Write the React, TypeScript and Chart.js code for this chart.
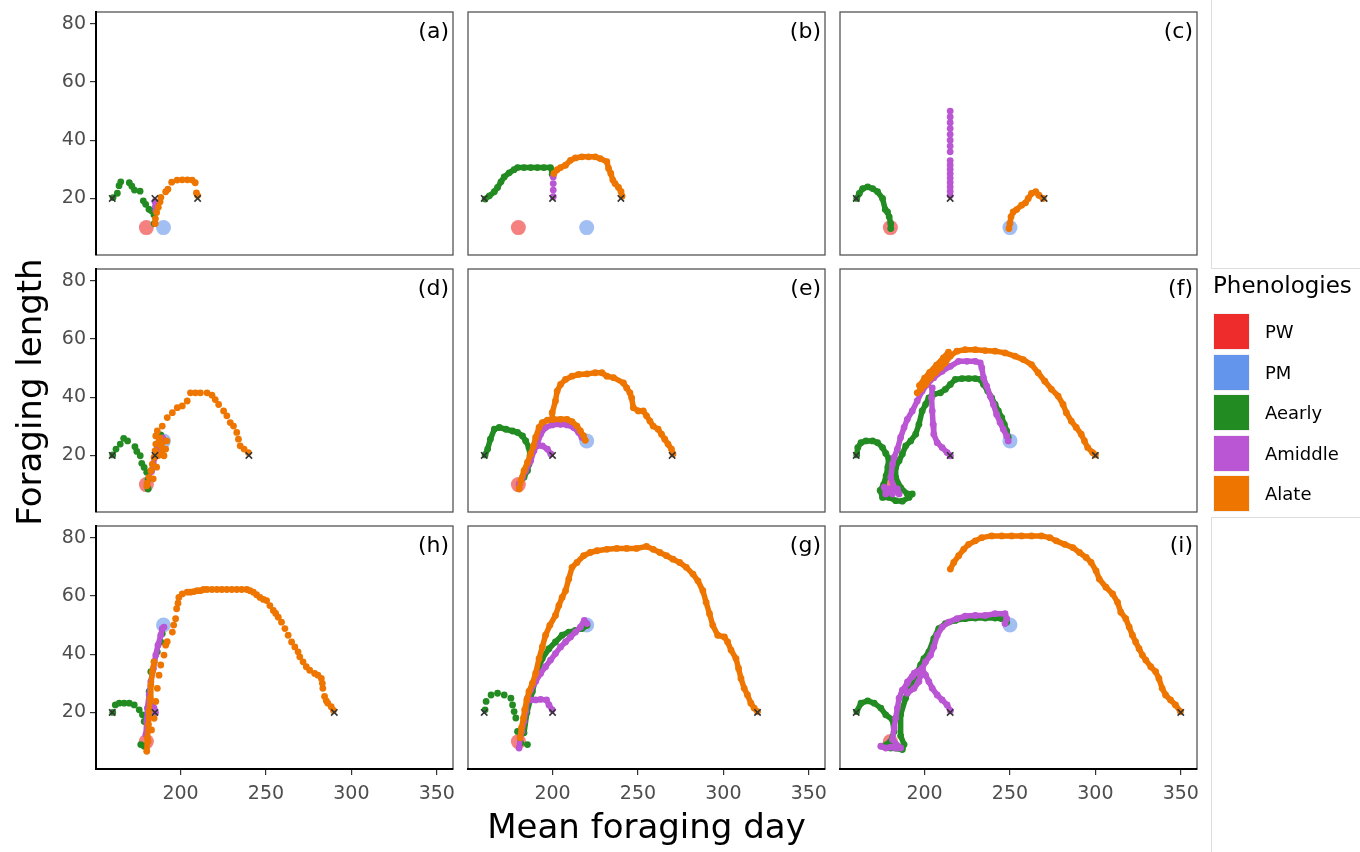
import React, { useEffect, useRef } from 'react';
import { Chart, registerables } from 'chart.js';

Chart.register(...registerables);

type Pt = [number, number];

// ---------- categories, ticks, ranges ----------
const PANEL_LABELS = ['(a)', '(b)', '(c)', '(d)', '(e)', '(f)', '(h)', '(g)', '(i)'];
const PHENOLOGIES = ['PW', 'PM', 'Aearly', 'Amiddle', 'Alate'];
const COLORS = ['#EE2C2C', '#6495ED', '#228B22', '#BA55D3', '#EE7600'];
const X_TICKS = [200, 250, 300, 350];
const Y_TICKS = [20, 40, 60, 80];
const X_RANGE: Pt = [150.5, 359.5];
const Y_RANGE: Pt = [0.6, 84];
const X_TITLE = 'Mean foraging day';
const Y_TITLE = 'Foraging length';
const LEGEND_TITLE = 'Phenologies';

// ---------- PW / PM end points (per panel a,b,c,d,e,f,h,g,i) ----------
const PW_DAY = [180, 180, 180, 180, 180, 180, 180, 180, 180];
const PW_LEN = [10, 10, 10, 10, 10, 10, 10, 10, 10];
const PM_DAY = [190, 220, 250, 190, 220, 250, 190, 220, 250];
const PM_LEN = [10, 10, 10, 25, 25, 25, 50, 50, 50];

// ---------- start markers (x) ----------
const START_EARLY = [160, 160, 160, 160, 160, 160, 160, 160, 160];
const START_MIDDLE = [185, 200, 215, 185, 200, 215, 185, 200, 215];
const START_LATE = [210, 240, 270, 240, 270, 300, 290, 320, 350];
const START_LEN = [20, 20, 20, 20, 20, 20, 20, 20, 20];

// ---------- panel (a) ----------
const A_EARLY: Pt[] = [[160.5, 20.3], [163, 21.8], [164, 24.4], [165, 25.7], [170, 25.4], [171.5, 24.2], [173, 22.9], [176.3, 22.5], [178.2, 19.2], [179.6, 18], [181.5, 16.3], [183, 15.8], [184.4, 14.4], [184.6, 11.4]];
const A_MIDDLE: Pt[] = [[185, 19], [185.3, 17.3], [185.5, 15.8]];
const A_LATE: Pt[] = [[185.2, 11.4], [185.3, 13], [186, 15.2], [187, 17], [188, 18.9], [188.5, 20.4], [191.3, 22.3], [192.6, 23.2], [194.8, 25.6], [198, 26.3], [201, 26.4], [204, 26.4], [206.8, 26.3], [208.6, 25.4], [209.3, 21.9], [210, 21]];

// ---------- panel (b) ----------
const B_EARLY: Pt[] = [[160.5, 19.8], [163, 20.9], [165.9, 22.3], [167.8, 23.8], [169.8, 25.7], [171.7, 27.4], [174.6, 28.8], [177.5, 29.9], [179.5, 30.6], [183.3, 30.6], [187.2, 30.6], [191.1, 30.6], [194.9, 30.6], [198.8, 30.6], [199.8, 29.1], [199.8, 28.3]];
const B_MIDDLE: Pt[] = [[200.4, 27.4], [200.4, 25.1], [200.4, 22.9], [200.4, 20.6]];
const B_LATE: Pt[] = [[200.8, 28.6], [202.7, 29.9], [204.7, 30.6], [207.6, 31.4], [210.5, 33.1], [213.4, 33.9], [217.2, 34.3], [221.1, 34.3], [225, 34.3], [227.9, 33.7], [231.8, 32.6], [232.8, 30.3], [234.1, 28.6], [235.3, 26.3], [236.6, 25.1], [238.6, 23.8], [240.1, 22.3], [240.7, 20.8]];

// ---------- panel (c) ----------
const C_EARLY: Pt[] = [[160.3, 20], [161.8, 21.7], [163.8, 23.4], [166.7, 24], [169.6, 23.4], [172.5, 22.3], [175.4, 20], [177, 16.2], [178.3, 15.4], [179.3, 13.7], [180.2, 11.4], [180.2, 9.7]];
const C_MIDDLE: Pt[] = [[215, 21], [215, 22.5], [215, 24], [215, 25.5], [215, 27], [215, 28.5], [215, 30], [215, 31.5], [215, 33], [215, 36], [215, 38], [215, 40], [215, 42], [215, 44], [215, 46], [215, 48], [215, 50]];
const C_LATE: Pt[] = [[249.4, 9.7], [250, 11.4], [250.6, 13.7], [251.9, 15.4], [253.9, 16.2], [256.8, 17.7], [259.1, 18.5], [260.7, 20], [262.6, 21.7], [265.1, 22.3], [266.9, 21.1], [269.4, 20]];

// ---------- panel (d) ----------
const D_EARLY: Pt[] = [[160.3, 20.2], [162.2, 22.2], [164.7, 23.9], [166.7, 25.9], [169, 25], [173.3, 23], [174.4, 21.4], [176.4, 19.9], [177.3, 17.3], [178.7, 15.9], [180.2, 14.2], [181, 11.9], [181, 8.5], [188.4, 27.1]];
const D_MIDDLE: Pt[] = [[183, 14.5], [184, 17], [185, 19.5], [186, 22], [187, 24], [188.5, 25.5], [189.5, 26]];
const D_LATE: Pt[] = [[180.2, 9.6], [180.5, 10.5], [181.6, 12.5], [184, 12], [182.6, 14.8], [183.5, 17], [186, 16], [184.5, 19.3], [187, 20], [185.1, 21.6], [185.5, 23.9], [185.5, 26.7], [186.4, 28.4], [188, 26], [187.4, 25], [189, 24], [188.4, 23.3], [189.3, 21.6], [190.3, 19.9], [191.3, 22.2], [191.9, 25], [189.3, 30.1], [192.2, 33], [195.2, 34.7], [198.1, 36.4], [201, 37], [203.9, 38.7], [205.8, 41.5], [208.7, 41.5], [211.6, 41.5], [215.5, 41.5], [218.4, 40.7], [220.3, 39.2], [222.3, 37.5], [225.2, 35.3], [227.1, 33.6], [229.1, 31.3], [231, 30.1], [232.9, 27.9], [233.9, 25.6], [234.9, 23.3], [237.2, 22.2], [239.7, 21]];

// ---------- panel (e) ----------
const E_EARLY: Pt[] = [[160.5, 20.2], [162, 22.2], [163.6, 25.6], [165.9, 29], [168.8, 29.6], [172.7, 29], [176.6, 28.4], [179.5, 27.9], [182.4, 26.7], [184.3, 25], [186.2, 22.7], [186.8, 19.9], [186.2, 17], [185.3, 14.8], [183.3, 12.5]];
const E_MIDDLE: Pt[] = [[180.4, 10.2], [182.4, 12.5], [184.3, 14.8], [187.2, 18.2], [189.1, 21.6], [191.1, 23.9], [193, 27.3], [195.9, 29.6], [199.8, 30.5], [204.7, 30.7], [208.5, 30.5], [212.4, 29.6], [215.3, 27.9], [217.2, 26.2]];
const E_MIDDLE_BRANCH: Pt[] = [[191.1, 23.3], [194, 23.3], [197, 22.2], [199, 20.5]];
const E_LATE: Pt[] = [[180.4, 8.5], [181.4, 11.3], [183.3, 14.8], [185.3, 17.6], [187.2, 20.5], [188.8, 23.3], [190.1, 26.2], [192.1, 29.6], [194, 31.3], [197, 32.1], [200.8, 32.4], [204.7, 32.4], [208.5, 32.4], [211.4, 31.6], [214.3, 30.1], [216.3, 28.4], [218.2, 26.7], [219.2, 25.2]];
const E_LATE_OUTER: Pt[] = [[199.8, 32.5], [199.8, 34.7], [201.7, 38.7], [202.7, 42.1], [204.7, 44.4], [207.6, 46.1], [211.4, 47.2], [215.3, 47.8], [220.2, 48], [225, 48.4], [228.9, 48.4], [231.8, 47.2], [235.7, 46.7], [241.5, 44.9], [243.4, 43.2], [245.3, 41.5], [246.3, 39.8], [247.3, 36.4], [250.2, 35.3], [253.1, 35.3], [255, 33.6], [257, 31.8], [258.9, 30.1], [261.8, 29], [263.8, 27.3], [265.7, 25.6], [267.6, 23.9], [269.6, 22.2], [270.5, 20.5]];

// ---------- panel (f) ----------
const F_EARLY: Pt[] = [[160.3, 20.2], [160.9, 22.7], [162.8, 24.4], [165.7, 25], [169.6, 25], [172.5, 24.4], [175.4, 22.7], [177.3, 20.7], [179, 19], [178.5, 16], [177.5, 13], [176, 10], [174, 8], [175.4, 5.6], [179.3, 5.6], [183.1, 4.5], [187, 4.3], [190.9, 5.6], [192.8, 6.8], [189.9, 6.8], [186, 9], [183.1, 12.5], [183.1, 15.9], [185.1, 18.2], [187, 20.5], [189, 23.3], [191.9, 25], [194.8, 27.3], [196.7, 30.7], [198.6, 35.3], [200.6, 37.5], [202.5, 39.8], [205.4, 41], [209.3, 41.5], [212.2, 42.7], [215.1, 44.4], [218, 46.1], [221.9, 46.4], [225.8, 46.4], [229.7, 46.4], [232.6, 46.1], [234.5, 44.4], [237, 42.1], [239.3, 39.8], [241.3, 37.5], [243.2, 35.3], [245.2, 33], [246.7, 30.7], [248.1, 28.4], [249, 26.2]];
const F_MIDDLE: Pt[] = [[176.4, 9.1], [177.3, 6.8], [179.3, 8.5], [181.2, 6.8], [182.2, 7.9], [184.1, 8.5], [185.1, 6.8], [182, 9], [180.2, 12.5], [181.2, 17], [182.2, 19.3], [184.1, 22.2], [186, 26.2], [188, 29.6], [189.9, 32.4], [192.8, 35.3], [195.7, 38.7], [198.6, 42.1], [201.6, 44.4], [205.4, 46.7], [210.3, 48.9], [215.1, 50.6], [219.9, 52.3], [224.8, 52.3], [229.7, 52.3], [232.6, 51.8], [233.5, 50.1], [234.5, 46.7], [236.4, 43.8], [238.4, 40.4], [240.3, 37.5], [242.2, 34.1], [244.2, 31.3], [246.1, 29], [248.1, 26.7], [249, 25]];
const F_MIDDLE_BRANCH: Pt[] = [[204.5, 43.2], [204.1, 39.8], [204.5, 35.3], [205, 30.7], [205.4, 27.3], [207.4, 24.4], [210.3, 22.7], [213.2, 21], [215.1, 19.9]];
const F_LATE: Pt[] = [[195.7, 41.5], [197.7, 42.7], [200.6, 44.4], [203.5, 46.7], [206.4, 48.4], [209.3, 50.1], [212.2, 51.8], [215.1, 54.1], [219, 55.8], [223.8, 56.3], [229.7, 56.3], [235.5, 56], [241.3, 55.8], [247.1, 55.2], [252.9, 54.1], [257.8, 52.9], [262.6, 51.2], [266.5, 48.4], [270.4, 45.5], [274.3, 42.7], [278.2, 40.4], [281.1, 37.5], [283, 34.7], [285.9, 31.8], [288.8, 29.6], [291.7, 27.3], [293.6, 25], [295.5, 22.7], [298.4, 21], [300, 20.2]];
const F_LATE_BAND: Pt[] = [[197, 44], [200, 46.5], [203, 48.5], [207, 51], [211, 53.5], [214, 55.5]];

// ---------- panel (h) ----------
const H_EARLY: Pt[] = [[160.3, 20], [161.8, 22.6], [164.1, 23.2], [167, 23.2], [170, 23.2], [172.9, 22.6], [175.8, 20.9], [177.7, 19.2], [178.7, 16.9], [176.7, 9], [178.7, 8.4], [181.6, 27.2], [182.6, 34], [184.5, 37.4], [186.4, 40.8], [188.4, 44.2], [189.3, 47]];
const H_MIDDLE: Pt[] = [[179.7, 12.4], [180.2, 16.9], [180.6, 21.5], [181.6, 26], [182.6, 30.6], [184.1, 35.1], [185.5, 39.7], [186.8, 43.1], [188.4, 46.5], [189.3, 48.8], [190.3, 49.3]];
const H_MIDDLE_BRANCH: Pt[] = [[183.5, 22.5], [184.5, 21.5], [185.3, 20]];
const H_LATE_RISE: Pt[] = [[180.2, 6.7], [180.6, 11.3], [181.2, 15.8], [181.6, 20.3], [182.2, 24.9], [182.6, 29.4], [183.5, 34], [184.5, 37.4]];
const H_LATE_RISE2: Pt[] = [[181, 10], [183, 14], [184.5, 18], [185.5, 23.8], [186.4, 28.3], [187.4, 32.8], [188.4, 36.3], [190.3, 39.7], [191.3, 43.1], [192.2, 44.3]];
const H_LATE_ARC: Pt[] = [[195.2, 47.6], [196, 50], [197.1, 52.2], [197.7, 55.6], [198.5, 57.5], [199, 59.5], [201, 60.7], [203.9, 61.3], [205.8, 61.3], [207.8, 61.5], [209.7, 61.8], [211.6, 61.8], [213.5, 62.2], [215.5, 62.2], [218.4, 62.2], [221.3, 62.2], [224.2, 62.2], [227.1, 62.2], [230, 62.2], [232.9, 62.2], [235.8, 62.2], [238.8, 62.2], [240.7, 61.8], [242.6, 61.3], [244.5, 60.4], [246.5, 59.5], [248.5, 58.8], [250.4, 58.4], [252.3, 56.7], [254.3, 55], [255.7, 54], [257.2, 52.7], [259.1, 51], [261.1, 48.8], [263, 46.5], [265, 44.2], [266.9, 42.5], [268.8, 40.8], [269.8, 39.1], [271.7, 37.4], [273.6, 35.7], [275.6, 34.5], [278.5, 33.4], [280.4, 32.8], [282.4, 31.7], [283, 30], [283.3, 28.3], [284.3, 25.5], [285.3, 24], [286.2, 23.2], [288.2, 22], [289.5, 20.7]];

// ---------- panel (g) ----------
const G_EARLY: Pt[] = [[160.5, 20.9], [161.1, 23.8], [164, 26], [167.8, 26.6], [171.7, 26], [175.6, 24.9], [176.6, 22.6], [177.5, 20.3], [178.5, 18.1], [179.5, 13.5], [181.4, 9.5], [185.3, 9]];
const G_EARLY_RISE: Pt[] = [[183.3, 13], [185, 20], [188.2, 27.2], [191.1, 34], [194, 38.5], [197.9, 41.9], [201.7, 44.2], [205.6, 46.5], [209.5, 47.6], [213.4, 48.2], [217.2, 48.8], [220.2, 49.9]];
const G_MIDDLE: Pt[] = [[180.4, 7.8], [181, 11.3], [182, 13.5], [183.3, 16.9], [184.3, 20.3], [185.3, 24.9], [187.2, 27.7], [190.1, 30.6], [193, 33.4], [195.9, 35.7], [198.8, 38], [201.7, 40.2], [204.7, 42.5], [207.6, 44.2], [210.5, 45.9], [213.4, 47.6], [216.3, 49.3], [218.6, 51.6], [220.2, 50.5]];
const G_MIDDLE_BRANCH: Pt[] = [[187.2, 24.3], [190.1, 24.3], [193, 24.5], [196.5, 24.3], [197.9, 22.6], [199.8, 20.9]];
const G_LATE: Pt[] = [[181, 11.3], [181.8, 14.7], [183, 18.1], [183.7, 20.9], [184.9, 24.3], [186.2, 27.2], [188.2, 30], [190.1, 33.4], [192.1, 38.5], [194, 42.5], [195.9, 46.5], [198.4, 49.9], [201.7, 53.3], [203.7, 56.7], [205.6, 59.5], [207.6, 61.8], [209.5, 65.8], [211.4, 69.8], [214.3, 71.5], [218.2, 73.8], [222.1, 74.9], [226, 75.5], [231.8, 76], [237.6, 76.3], [243.4, 76.3], [249.2, 76.3], [255, 77], [258.9, 76], [262.8, 74.9], [266.7, 73.8], [270.5, 72.6], [274.4, 71.5], [278.3, 69.8], [282.2, 67.5], [285.1, 65.2], [288, 61.8], [289.9, 57.8], [291.9, 53.9], [293.8, 49.9], [296.7, 46.5], [300.6, 45.9], [302.5, 44.2], [304.5, 41.4], [307.4, 38.5], [308.9, 35.1], [310.3, 31.7], [312.2, 28.3], [314.1, 26], [316.1, 23.2], [318, 21.5], [320, 20.3]];

// ---------- panel (i) ----------
const I_EARLY: Pt[] = [[160.3, 20.3], [162.8, 23.2], [166.7, 24], [170.5, 23.2], [174.4, 21.5], [177.3, 19.2], [181.2, 17.5], [182.2, 13.5], [180, 10], [175.4, 8.4], [180.2, 7.8], [187, 7.3], [188, 9], [186, 12], [186, 19.2], [188.9, 24.9], [191.9, 29.4], [194.8, 32.8], [197.7, 36.3], [199.6, 38.5], [202.5, 40.8], [205.4, 45.3], [208.3, 48.8], [212.2, 50.5], [218, 51.6], [223.8, 52.2], [229.7, 52.4], [235.5, 52.4], [241.3, 52.4], [245.2, 52.2], [248.1, 51]];
const I_MIDDLE: Pt[] = [[174.4, 8.4], [177.3, 7.8], [180.2, 8.1], [183.1, 7.8], [186, 7.8], [181.2, 10.7], [182.2, 14.7], [183.1, 18.1], [184.1, 21.5], [185.1, 24.9], [187, 27.7], [189.9, 30], [192.8, 32.3], [195.7, 34], [197.7, 32.8], [196.7, 30.6], [193.8, 28.3], [189.9, 26.6], [188, 27.5], [190, 30.5], [194, 33.5], [198.6, 35.1], [200.6, 37.4], [203.5, 39.7], [205.4, 42.5], [207.4, 46.5], [210.3, 49.3], [214.1, 51], [219, 52.2], [223.8, 53.1], [229.7, 53.3], [235.5, 53.3], [241.3, 53.9], [247.1, 53.9], [248.1, 52.2], [247.1, 50.5]];
const I_MIDDLE_BRANCH: Pt[] = [[198.6, 35.1], [200.6, 32.8], [202.5, 30.6], [204.5, 28.3], [207.4, 26], [210.3, 24.3], [213.2, 22.6], [215.1, 20.6]];
const I_LATE: Pt[] = [[215.1, 69.2], [217.1, 71.5], [220, 73.8], [222.9, 76], [225.8, 77.7], [229.7, 78.9], [233.5, 80], [239.3, 80.6], [245.2, 80.6], [251, 80.6], [256.8, 80.6], [262.6, 80.6], [268.4, 80.6], [273.3, 80], [277.1, 78.9], [282, 77.7], [286.8, 76.6], [290.7, 74.9], [294.6, 73.2], [297.5, 71.5], [300.4, 68.6], [302.3, 65.8], [306.2, 63], [310.1, 60.7], [313, 57.8], [314.9, 54.4], [317.8, 52.2], [319.8, 49.3], [321.7, 46.5], [323.6, 44.2], [325.6, 41.9], [327.5, 39.7], [329.5, 38], [332.4, 35.7], [335.3, 34], [337.2, 31.7], [339.1, 28.3], [341.1, 26], [344, 24.3], [346.9, 22.6], [349.8, 20.3]];

// table: panel index, phenology index, points, dotted (points only)
const TRAILS: { panel: number; phen: number; pts: Pt[]; dotted: boolean }[] = [
  { panel: 0, phen: 2, pts: A_EARLY, dotted: true },
  { panel: 0, phen: 3, pts: A_MIDDLE, dotted: true },
  { panel: 0, phen: 4, pts: A_LATE, dotted: true },
  { panel: 1, phen: 2, pts: B_EARLY, dotted: false },
  { panel: 1, phen: 3, pts: B_MIDDLE, dotted: true },
  { panel: 1, phen: 4, pts: B_LATE, dotted: false },
  { panel: 2, phen: 2, pts: C_EARLY, dotted: false },
  { panel: 2, phen: 3, pts: C_MIDDLE, dotted: true },
  { panel: 2, phen: 4, pts: C_LATE, dotted: false },
  { panel: 3, phen: 2, pts: D_EARLY, dotted: true },
  { panel: 3, phen: 3, pts: D_MIDDLE, dotted: false },
  { panel: 3, phen: 4, pts: D_LATE, dotted: true },
  { panel: 4, phen: 2, pts: E_EARLY, dotted: false },
  { panel: 4, phen: 3, pts: E_MIDDLE, dotted: false },
  { panel: 4, phen: 3, pts: E_MIDDLE_BRANCH, dotted: false },
  { panel: 4, phen: 4, pts: E_LATE, dotted: false },
  { panel: 4, phen: 4, pts: E_LATE_OUTER, dotted: false },
  { panel: 5, phen: 2, pts: F_EARLY, dotted: false },
  { panel: 5, phen: 3, pts: F_MIDDLE, dotted: false },
  { panel: 5, phen: 3, pts: F_MIDDLE_BRANCH, dotted: false },
  { panel: 5, phen: 4, pts: F_LATE, dotted: false },
  { panel: 5, phen: 4, pts: F_LATE_BAND, dotted: false },
  { panel: 6, phen: 2, pts: H_EARLY, dotted: true },
  { panel: 6, phen: 3, pts: H_MIDDLE, dotted: false },
  { panel: 6, phen: 3, pts: H_MIDDLE_BRANCH, dotted: false },
  { panel: 6, phen: 4, pts: H_LATE_RISE, dotted: false },
  { panel: 6, phen: 4, pts: H_LATE_RISE2, dotted: true },
  { panel: 6, phen: 4, pts: H_LATE_ARC, dotted: true },
  { panel: 7, phen: 2, pts: G_EARLY, dotted: true },
  { panel: 7, phen: 2, pts: G_EARLY_RISE, dotted: false },
  { panel: 7, phen: 3, pts: G_MIDDLE, dotted: false },
  { panel: 7, phen: 3, pts: G_MIDDLE_BRANCH, dotted: false },
  { panel: 7, phen: 4, pts: G_LATE, dotted: false },
  { panel: 8, phen: 2, pts: I_EARLY, dotted: false },
  { panel: 8, phen: 3, pts: I_MIDDLE, dotted: false },
  { panel: 8, phen: 3, pts: I_MIDDLE_BRANCH, dotted: false },
  { panel: 8, phen: 4, pts: I_LATE, dotted: false },
];

// ---------- layout ----------
const COL_LEFT = [96, 468, 840];
const ROW_TOP = [12, 269, 526];
const PANEL_W = 357;
const PANEL_H = 243;
const PAD = 10;
const Y_AXIS_W = 96;
const X_AXIS_H = 60;
const FONT = "'DejaVu Sans', sans-serif";

function withAlpha(hex: string, a: number) {
  const n = parseInt(hex.slice(1), 16);
  return `rgba(${(n >> 16) & 255},${(n >> 8) & 255},${n & 255},${a})`;
}

const panelBorder = {
  id: 'panelBorder',
  beforeDraw(chart: any) {
    const { ctx, chartArea: a } = chart;
    ctx.save();
    ctx.strokeStyle = '#555555';
    ctx.lineWidth = 1.3;
    ctx.strokeRect(a.left, a.top, a.right - a.left, a.bottom - a.top);
    ctx.restore();
  },
};

function Panel({ index }: { index: number }) {
  const ref = useRef<HTMLCanvasElement>(null);
  const c = index % 3;
  const r = Math.floor(index / 3);
  const isLeft = c === 0;
  const isBottom = r === 2;
  const left = isLeft ? 0 : COL_LEFT[c] - PAD;
  const top = ROW_TOP[r] - PAD;
  const width = (isLeft ? COL_LEFT[c] : PAD) + PANEL_W + PAD;
  const height = PAD + PANEL_H + (isBottom ? X_AXIS_H : PAD);

  useEffect(() => {
    const order: Record<number, number> = { 2: 8, 3: 7, 4: 6 };
    const datasets: any[] = [
      {
        data: [{ x: PW_DAY[index], y: PW_LEN[index] }],
        pointRadius: 7.5,
        pointBackgroundColor: withAlpha(COLORS[0], 0.6),
        pointBorderWidth: 0,
        order: 10,
      },
      {
        data: [{ x: PM_DAY[index], y: PM_LEN[index] }],
        pointRadius: 7.5,
        pointBackgroundColor: withAlpha(COLORS[1], 0.6),
        pointBorderWidth: 0,
        order: 9,
      },
    ];
    TRAILS.filter((t) => t.panel === index).forEach((t) => {
      const col = COLORS[t.phen];
      datasets.push({
        data: t.pts.map(([x, y]) => ({ x, y })),
        showLine: !t.dotted,
        borderColor: col,
        backgroundColor: col,
        borderWidth: 5.5,
        borderCapStyle: 'round',
        borderJoinStyle: 'round',
        pointRadius: 3.4,
        pointBackgroundColor: col,
        pointBorderWidth: 0,
        order: order[t.phen],
      });
    });
    datasets.push({
      data: [
        { x: START_EARLY[index], y: START_LEN[index] },
        { x: START_MIDDLE[index], y: START_LEN[index] },
        { x: START_LATE[index], y: START_LEN[index] },
      ],
      pointStyle: 'crossRot',
      pointRadius: 4.5,
      pointBorderColor: '#333333',
      pointBorderWidth: 1.6,
      order: 1,
    });

    const chart = new Chart(ref.current as HTMLCanvasElement, {
      type: 'scatter',
      data: { datasets },
      options: {
        animation: false,
        responsive: false,
        maintainAspectRatio: false,
        events: [],
        layout: {
          padding: { left: isLeft ? 0 : PAD, right: PAD, top: PAD, bottom: isBottom ? 0 : PAD },
        },
        plugins: { legend: { display: false }, tooltip: { enabled: false } },
        scales: {
          x: {
            type: 'linear',
            min: X_RANGE[0],
            max: X_RANGE[1],
            display: isBottom,
            afterBuildTicks: (s: any) => {
              s.ticks = X_TICKS.map((v) => ({ value: v }));
            },
            afterFit: (s: any) => {
              s.height = isBottom ? X_AXIS_H : 0;
              s.paddingLeft = 0;
              s.paddingRight = 0;
            },
            ticks: {
              color: '#4D4D4D',
              font: { family: FONT, size: 19 },
              padding: 8,
              maxRotation: 0,
              autoSkip: false,
            },
            grid: { display: true, drawOnChartArea: false, drawTicks: true, tickLength: 6, color: '#333333', lineWidth: 1.2 },
            border: { display: true, color: '#000000', width: 2 },
          },
          y: {
            type: 'linear',
            min: Y_RANGE[0],
            max: Y_RANGE[1],
            display: isLeft,
            afterBuildTicks: (s: any) => {
              s.ticks = Y_TICKS.map((v) => ({ value: v }));
            },
            afterFit: (s: any) => {
              s.width = isLeft ? Y_AXIS_W : 0;
              s.paddingTop = 0;
              s.paddingBottom = 0;
            },
            ticks: {
              color: '#4D4D4D',
              font: { family: FONT, size: 19 },
              padding: 4,
              autoSkip: false,
            },
            grid: { display: true, drawOnChartArea: false, drawTicks: true, tickLength: 6, color: '#333333', lineWidth: 1.2 },
            border: { display: true, color: '#000000', width: 2 },
          },
        },
      } as any,
      plugins: [panelBorder],
    });
    return () => chart.destroy();
  }, [index]);

  return (
    <canvas
      ref={ref}
      width={width}
      height={height}
      style={{ position: 'absolute', left, top, width, height }}
    />
  );
}

export default function App() {
  const legendTop = 313;
  const legendStep = 40.5;
  return (
    <div
      style={{
        position: 'absolute',
        left: 0,
        top: 0,
        width: 1360,
        height: 852,
        background: '#ffffff',
        overflow: 'hidden',
        fontFamily: FONT,
      }}
    >
      {PANEL_LABELS.map((_, i) => (
        <Panel key={i} index={i} />
      ))}
      {PANEL_LABELS.map((lab, i) => {
        const c = i % 3;
        const r = Math.floor(i / 3);
        return (
          <div
            key={'lab' + i}
            style={{
              position: 'absolute',
              left: COL_LEFT[c],
              top: ROW_TOP[r] + 8,
              width: PANEL_W - 4,
              textAlign: 'right',
              fontSize: 22,
              lineHeight: '22px',
              color: '#000',
            }}
          >
            {lab}
          </div>
        );
      })}
      <div
        style={{
          position: 'absolute',
          left: COL_LEFT[0],
          width: COL_LEFT[2] + PANEL_W - COL_LEFT[0],
          top: 809,
          textAlign: 'center',
          fontSize: 34,
          lineHeight: '34px',
          color: '#000',
        }}
      >
        {X_TITLE}
      </div>
      <div
        style={{
          position: 'absolute',
          left: 29 - 200,
          top: 392 - 17,
          width: 400,
          height: 34,
          textAlign: 'center',
          fontSize: 34,
          lineHeight: '34px',
          transform: 'rotate(-90deg)',
          color: '#000',
        }}
      >
        {Y_TITLE}
      </div>
      {/* faint frame lines around legend area */}
      <div style={{ position: 'absolute', left: 1211, top: 0, width: 1, height: 268, background: '#dddddd' }} />
      <div style={{ position: 'absolute', left: 1211, top: 268, width: 149, height: 1, background: '#dddddd' }} />
      <div style={{ position: 'absolute', left: 1211, top: 517, width: 149, height: 1, background: '#dddddd' }} />
      <div style={{ position: 'absolute', left: 1211, top: 517, width: 1, height: 335, background: '#dddddd' }} />
      <div
        style={{
          position: 'absolute',
          left: 1213,
          top: 274,
          fontSize: 23,
          lineHeight: '23px',
          color: '#000',
          whiteSpace: 'nowrap',
        }}
      >
        {LEGEND_TITLE}
      </div>
      {PHENOLOGIES.map((p, i) => (
        <React.Fragment key={p}>
          <div
            style={{
              position: 'absolute',
              left: 1213,
              top: legendTop + i * legendStep,
              width: 37,
              height: 37,
              background: COLORS[i],
              boxSizing: 'border-box',
              border: '1px solid #f2f2f2',
            }}
          />
          <div
            style={{
              position: 'absolute',
              left: 1265,
              top: legendTop + i * legendStep,
              height: 37,
              lineHeight: '37px',
              fontSize: 18,
              color: '#000',
              whiteSpace: 'nowrap',
            }}
          >
            {p}
          </div>
        </React.Fragment>
      ))}
    </div>
  );
}
